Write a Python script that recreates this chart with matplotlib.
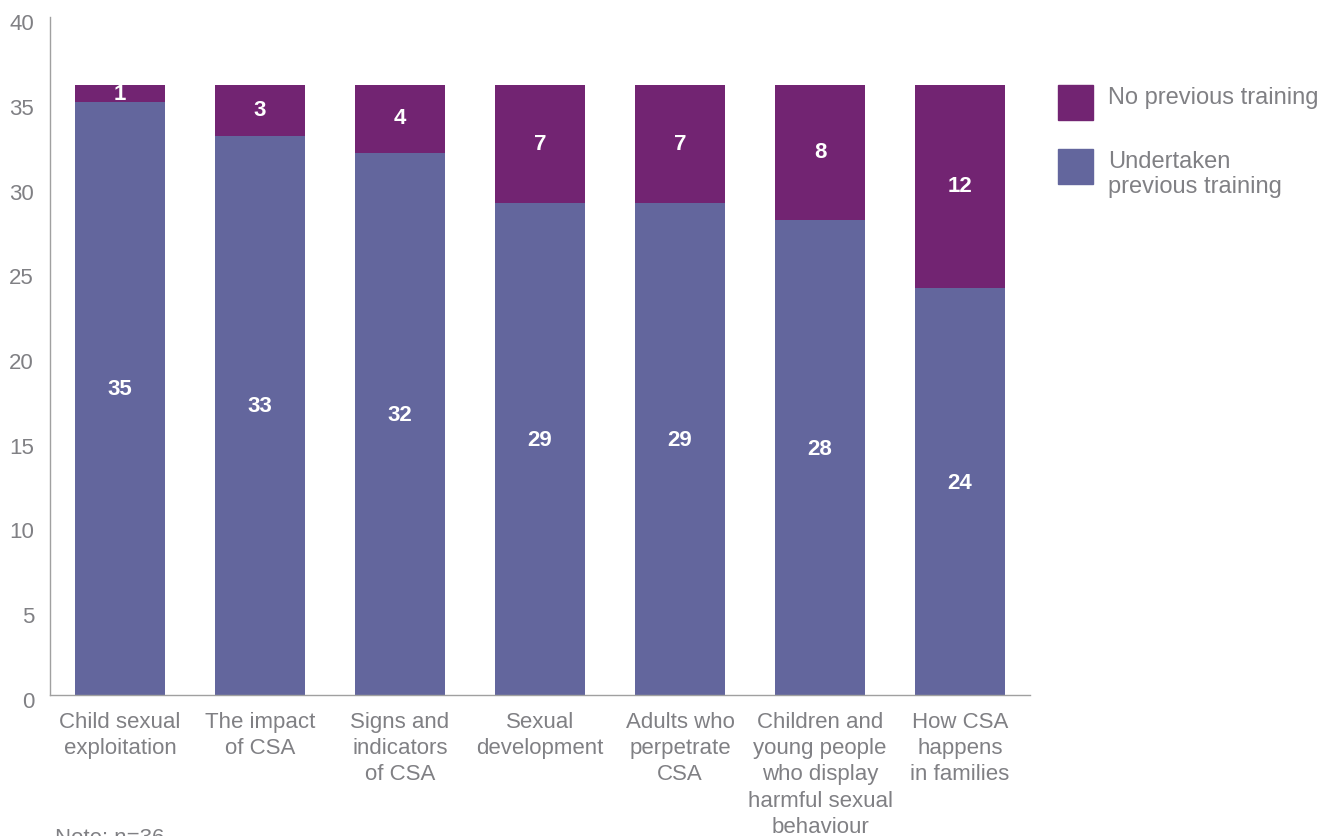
import matplotlib
matplotlib.use("Agg")
import matplotlib.pyplot as plt
import matplotlib.transforms as mtransforms
from matplotlib.patches import Rectangle
import numpy as np

categories = ["Child sexual\nexploitation", "The impact\nof CSA", "Signs and\nindicators\nof CSA",
              "Sexual\ndevelopment", "Adults who\nperpetrate\nCSA", "Children and\nyoung people\nwho display\nharmful sexual\nbehaviour",
              "How CSA\nhappens\nin families"]
undertaken = [35, 33, 32, 29, 29, 28, 24]
no_training = [1, 3, 4, 7, 7, 8, 12]
yticks = [0, 5, 10, 15, 20, 25, 30, 35, 40]
legend_labels = ["No previous training", "Undertaken\nprevious training"]

BLUE = "#63669d"
PURPLE = "#722472"
GRAY = "#808084"

plt.rcParams['font.family'] = ['Liberation Sans', 'DejaVu Sans']

W, H = 1338, 836
fig = plt.figure(figsize=(W/100, H/100), dpi=100)
ax = fig.add_axes([50/W, 1-695/H, 980/W, 678/H])

x = np.arange(len(categories))
w = 90/140
b1 = ax.bar(x, undertaken, w, color=BLUE)
b2 = ax.bar(x, no_training, w, bottom=undertaken, color=PURPLE)

for i in range(len(x)):
    ax.text(x[i], undertaken[i]/2 + 0.5, str(undertaken[i]), ha='center', va='center',
            color='white', fontsize=16, fontweight='bold')
    ypos = undertaken[i] + no_training[i]/2
    if no_training[i] == 1:
        ypos = undertaken[i] + 0.45
    ax.text(x[i], ypos, str(no_training[i]), ha='center', va='center',
            color='white', fontsize=16, fontweight='bold')

ax.set_xlim(-0.5, len(x)-0.5)
ax.set_ylim(0, 40)
ax.set_yticks(yticks)
ax.set_xticks(x)
ax.set_xticklabels(categories, fontsize=16, color=GRAY, linespacing=1.33, va='top')
ax.tick_params(axis='both', length=0, colors=GRAY, labelsize=16)
ax.tick_params(axis='x', pad=12)
ax.tick_params(axis='y', pad=11.5)
offset = mtransforms.ScaledTranslation(0, -5/100, fig.dpi_scale_trans)
for lab in ax.get_yticklabels():
    lab.set_transform(lab.get_transform() + offset)
for s in ['top', 'right']:
    ax.spines[s].set_visible(False)
for s in ['left', 'bottom']:
    ax.spines[s].set_color('#a0a0a0')
    ax.spines[s].set_linewidth(1.0)

# legend (manual)
leg_colors = [PURPLE, BLUE]
leg_tops = [85, 149]
for col, top, lab in zip(leg_colors, leg_tops, legend_labels):
    fig.patches.append(Rectangle((1058/W, 1-(top+35)/H), 35/W, 35/H,
                                 transform=fig.transFigure, color=col))
    fig.text(1108/W, 1-(top+2)/H, lab, fontsize=17, color=GRAY, va='top',
             linespacing=1.2)

fig.text(55/W, 1-828/H, "Note: n=36", fontsize=16, color=GRAY, va='top')

fig.savefig("out.png", dpi=100)
